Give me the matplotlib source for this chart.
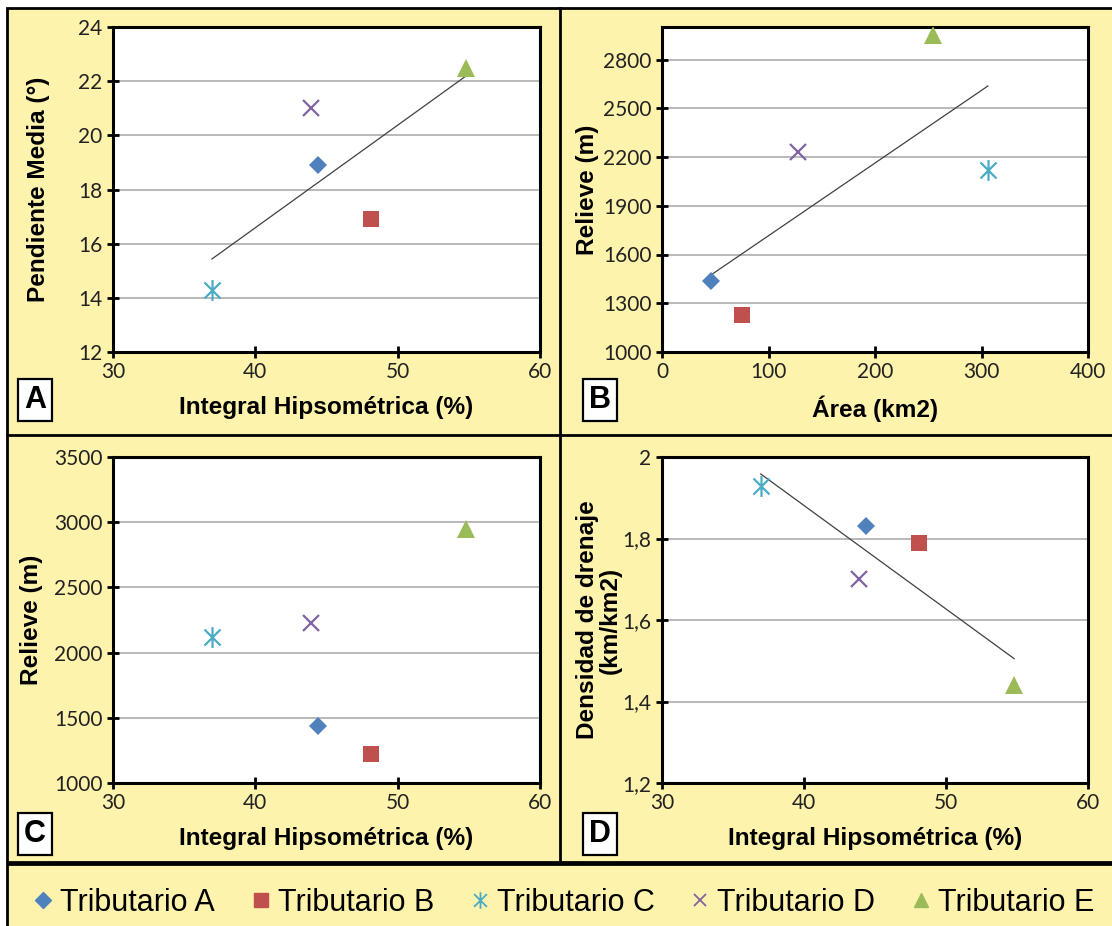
import numpy as np
import matplotlib
matplotlib.use("Agg")
import matplotlib.pyplot as plt
from matplotlib.path import Path
from matplotlib.patches import Rectangle
from matplotlib.lines import Line2D
from matplotlib.ticker import FuncFormatter

# datos de los tributarios
tributarios = ["Tributario A", "Tributario B", "Tributario C", "Tributario D", "Tributario E"]
integral_hips = [44.4, 48.1, 36.95, 43.9, 54.8]
pendiente = [18.9, 16.9, 14.3, 21.0, 22.5]
relieve = [1435, 1225, 2120, 2230, 2950]
area = [46, 75, 306, 128, 254]
densidad = [1.83, 1.79, 1.93, 1.70, 1.44]

colores = ["#4F81BD", "#C0504D", "#4BACC6", "#8064A2", "#9BBB59"]

star = Path([(-1, -1), (1, 1), (-1, 1), (1, -1), (0, -1.3), (0, 1.3)],
            [Path.MOVETO, Path.LINETO, Path.MOVETO, Path.LINETO, Path.MOVETO, Path.LINETO])
markers = ["D", "s", star, "x", "^"]
msizes = [9, 11, 15, 11, 13]

W, H = 1112, 926
YELLOW = "#FEF3AC"
TICKFONT = "Lato"
LABFONT = "Liberation Sans"

fig = plt.figure(figsize=(W / 100, H / 100), dpi=100)
fig.patch.set_facecolor("white")


def px(x0, y0, x1, y1):
    return [x0 / W, 1 - y1 / H, (x1 - x0) / W, (y1 - y0) / H]


# fondo amarillo y bordes
fig.patches.append(Rectangle((7 / W, 1 - 862 / H), 1, (862 - 8) / H, transform=fig.transFigure,
                             fc=YELLOW, ec="black", lw=2, zorder=-5))
fig.patches.append(Rectangle((7 / W, -0.01), 1, (926 - 864) / H + 0.01, transform=fig.transFigure,
                             fc=YELLOW, ec="black", lw=2, zorder=-5))
fig.add_artist(Line2D([560 / W, 560 / W], [1 - 862 / H, 1 - 8 / H], transform=fig.transFigure,
                      color="black", lw=2, zorder=-4))
fig.add_artist(Line2D([7 / W, 1], [1 - 435 / H, 1 - 435 / H], transform=fig.transFigure,
                      color="black", lw=2, zorder=-4))


def panel(rect, x, y, xlim, xticks, ylim, yticks, xlabel, ylabel, trend, yfmt=None):
    ax = fig.add_axes(rect)
    ax.set_facecolor("white")
    for i in range(len(x)):
        if i in (2, 3):
            ax.plot(x[i], y[i], ls="none", marker=markers[i], ms=msizes[i], mfc="none",
                    mec=colores[i], mew=1.6, zorder=3)
        else:
            ax.plot(x[i], y[i], ls="none", marker=markers[i], ms=msizes[i], color=colores[i],
                    mew=0, zorder=3)
    if trend:
        m, b = np.polyfit(x, y, 1)
        xs = np.array([min(x), max(x)])
        ax.plot(xs, m * xs + b, color="#404040", lw=0.9, zorder=2)
    ax.set_xlim(*xlim)
    ax.set_ylim(*ylim)
    ax.set_xticks(xticks)
    ax.set_yticks(yticks)
    if yfmt:
        ax.yaxis.set_major_formatter(FuncFormatter(yfmt))
    ax.yaxis.grid(True, color="#A6A6A6", lw=1.1)
    ax.set_axisbelow(True)
    for s in ax.spines.values():
        s.set_linewidth(2.2)
    ax.tick_params(direction="inout", length=9, width=2, labelsize=15, pad=3)
    for lab in ax.get_xticklabels() + ax.get_yticklabels():
        lab.set_fontfamily(TICKFONT)
        lab.set_color("#222222")
    ax.set_xlabel(xlabel, fontsize=17.6, fontweight="bold", family=LABFONT)
    ax.set_ylabel(ylabel, fontsize=17.6, fontweight="bold", family=LABFONT)
    return ax


axA = panel(px(113, 27, 540, 352), integral_hips, pendiente, (30, 60), [30, 40, 50, 60],
            (12, 24), range(12, 25, 2), "Integral Hipsométrica (%)", "Pendiente Media (°)", True)
axB = panel(px(662, 27, 1088, 352), area, relieve, (0, 400), [0, 100, 200, 300, 400],
            (1000, 3000), range(1000, 2801, 300), "Área (km2)", "Relieve (m)", True)
axC = panel(px(113, 457, 540, 783), integral_hips, relieve, (30, 60), [30, 40, 50, 60],
            (1000, 3500), range(1000, 3501, 500), "Integral Hipsométrica (%)", "Relieve (m)", False)
axD = panel(px(662, 457, 1088, 783), integral_hips, densidad, (30, 60), [30, 40, 50, 60],
            (1.2, 2.0), [1.2, 1.4, 1.6, 1.8, 2.0], "Integral Hipsométrica (%)",
            "Densidad de drenaje\n(km/km2)", True,
            yfmt=lambda v, p: ("%g" % round(v, 1)).replace(".", ","))

for ax in (axA, axB, axC, axD):
    ax.xaxis.set_label_coords(0.5, -0.135)
axA.yaxis.set_label_coords(-0.148, 0.5)
axC.yaxis.set_label_coords(-0.165, 0.5)
axB.yaxis.set_label_coords(-0.149, 0.5)
axD.yaxis.set_label_coords(-0.095, 0.5)
axD.yaxis.label.set_linespacing(1.0)

# letras de los paneles
for letra, cx, cy in [("A", 35, 400), ("B", 600, 400), ("C", 35, 834), ("D", 600, 834)]:
    fig.text(cx / W, 1 - cy / H, letra, ha="center", va="center", fontsize=22, fontweight="bold",
             family=LABFONT,
             bbox=dict(boxstyle="square,pad=0.2", fc="white", ec="black", lw=1.6))

# leyenda
handles = []
for i in range(5):
    if i in (2, 3):
        h = Line2D([], [], ls="none", marker=markers[i], ms=12 if i == 2 else 9, mfc="none",
                   mec=colores[i], mew=1.3)
    else:
        h = Line2D([], [], ls="none", marker=markers[i], ms=8 if i == 0 else 10, color=colores[i])
    handles.append(h)
leg = fig.legend(handles, tributarios, loc="center", bbox_to_anchor=(0.506, 1 - 903 / H), ncol=5,
                 frameon=False, prop={"family": LABFONT, "size": 22}, handletextpad=0.15,
                 columnspacing=1.1, handlelength=0.8)

fig.savefig("out.png", dpi=100, facecolor="white")
